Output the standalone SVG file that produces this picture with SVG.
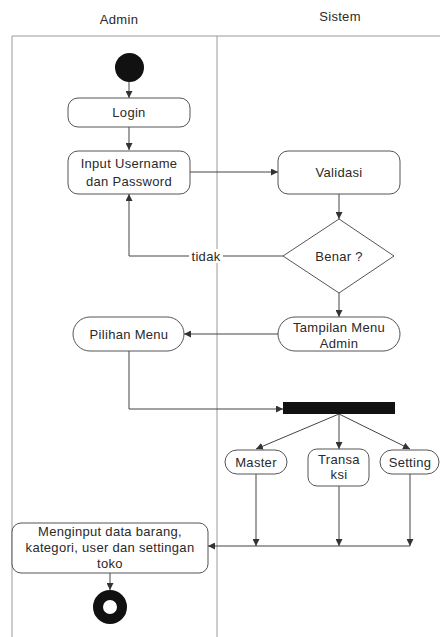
<svg xmlns="http://www.w3.org/2000/svg" width="440" height="637" viewBox="0 0 440 637">
<style>
  .lane { fill: none; stroke: #9a9a9a; stroke-width: 1; }
  .node { fill: #ffffff; stroke: #555555; stroke-width: 1; }
  .txt { font-family: "Liberation Sans", Arial, sans-serif; font-size: 13px; letter-spacing: 0.3px; fill: #2a2a2a; text-anchor: middle; }
  .edge { fill: none; stroke: #444444; stroke-width: 1; marker-end: url(#arr); }
</style>
<defs>
  <marker id="arr" viewBox="0 0 10 10" refX="10" refY="5" markerWidth="7" markerHeight="7" orient="auto" markerUnits="userSpaceOnUse">
    <path d="M0,0 L10,5 L0,10 z" fill="#333333"/>
  </marker>
</defs>
<rect width="440" height="637" fill="#ffffff"/>
<g id="lanes">
  <path class="lane" d="M12,637 V36 H440 M217,36 V637"/>
  <text class="txt" x="119" y="24">Admin</text>
  <text class="txt" x="340" y="21">Sistem</text>
</g>
<g id="connectors">
  <path class="edge" d="M129,82 V98"/>
  <path class="edge" d="M129,127 V150"/>
  <path class="edge" d="M190,172 H278"/>
  <path class="edge" d="M339,194 V219"/>
  <path class="edge" d="M283,256 H129 V194"/>
  <path class="edge" d="M339,293 V317"/>
  <path class="edge" d="M278,334 H184"/>
  <path class="edge" d="M129,351 V409 H283"/>
  <path class="edge" d="M339,414 L256,449"/>
  <path class="edge" d="M339,414 V449"/>
  <path class="edge" d="M339,414 L410,449"/>
  <path class="edge" d="M256,474 V546"/>
  <path class="edge" d="M339,486 V546"/>
  <path class="edge" d="M410,474 V546"/>
  <path class="edge" d="M410,546 H208"/>
  <path class="edge" d="M110,573 V590"/>
  <rect x="189" y="249" width="34" height="14" fill="#ffffff"/>
  <text class="txt" x="206" y="261">tidak</text>
</g>
<g id="start"><circle cx="129.5" cy="67.5" r="14.5" fill="#111111"/></g>
<g id="login"><rect class="node" x="68" y="98" width="122" height="29" rx="10"/><text class="txt" x="129" y="117">Login</text></g>
<g id="input"><rect class="node" x="68" y="151" width="122" height="43" rx="10"/><text class="txt" x="129" y="168">Input Username</text><text class="txt" x="129" y="186">dan Password</text></g>
<g id="validasi"><rect class="node" x="278" y="151" width="122" height="43" rx="10"/><text class="txt" x="339" y="177">Validasi</text></g>
<g id="benar"><path class="node" d="M339,219 L394,256 L339,293 L283,256 z"/><text class="txt" x="339" y="261">Benar ?</text></g>
<g id="tampilan"><rect class="node" x="278" y="317" width="122" height="34" rx="17"/><text class="txt" x="339" y="332">Tampilan Menu</text><text class="txt" x="339" y="348">Admin</text></g>
<g id="pilihan"><rect class="node" x="73" y="317" width="111" height="34" rx="17"/><text class="txt" x="129" y="339">Pilihan Menu</text></g>
<g id="fork"><rect x="283" y="402" width="112" height="12" fill="#111111"/></g>
<g id="master"><rect class="node" x="225" y="450" width="62" height="24" rx="12"/><text class="txt" x="256" y="467">Master</text></g>
<g id="transaksi"><rect class="node" x="308" y="449" width="61" height="37" rx="9"/><text class="txt" x="339" y="464">Transa</text><text class="txt" x="339" y="479">ksi</text></g>
<g id="setting"><rect class="node" x="380" y="450" width="59" height="24" rx="12"/><text class="txt" x="410" y="467">Setting</text></g>
<g id="menginput"><rect class="node" x="12" y="523" width="196" height="50" rx="9"/><text class="txt" x="110" y="536">Menginput data barang,</text><text class="txt" x="110" y="552">kategori, user dan settingan</text><text class="txt" x="110" y="568">toko</text></g>
<g id="end"><circle cx="110" cy="607" r="12" fill="none" stroke="#111111" stroke-width="10"/></g>
</svg>
